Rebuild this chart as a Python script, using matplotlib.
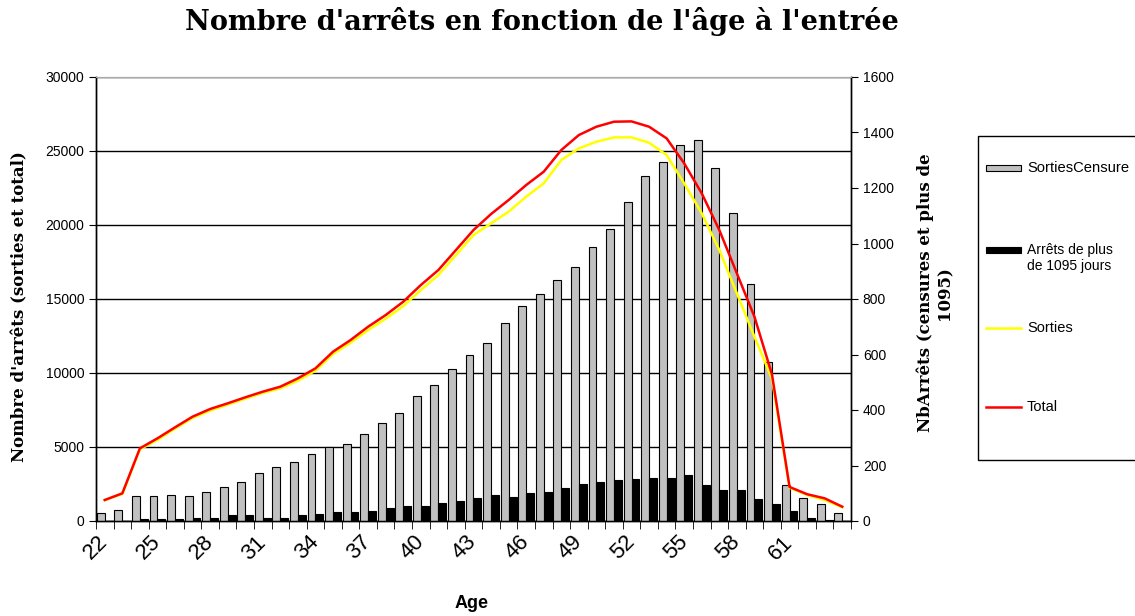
import matplotlib.pyplot as plt
from matplotlib.patches import Rectangle
from matplotlib.lines import Line2D

ages = list(range(22, 65))
censure = [28, 38, 90, 90, 95, 90, 106, 124, 139, 173, 195, 211, 240, 267, 279,
           312, 352, 390, 452, 491, 547, 597, 641, 714, 775, 819, 870, 914, 986,
           1052, 1148, 1243, 1293, 1354, 1372, 1271, 1109, 853, 574, 129, 84, 61, 28]
plus_1095 = [0, 0, 6, 6, 7, 11, 12, 22, 22, 12, 12, 22, 26, 31, 32, 37, 48, 54,
             54, 66, 71, 82, 95, 88, 100, 106, 120, 132, 141, 147, 153, 156, 156,
             165, 129, 113, 113, 80, 62, 35, 12, 2, 0]
sorties = [1419, 1824, 4842, 5472, 6238, 6959, 7454, 7860, 8265, 8648, 8963,
           9481, 10157, 11283, 12048, 12904, 13669, 14525, 15606, 16620, 17971,
           19322, 20110, 20899, 21912, 22813, 24389, 25177, 25628, 25920, 25920,
           25560, 24727, 22813, 20786, 18309, 15381, 12454, 9600, 2252, 1757,
           1419, 923]
total = [1419, 1869, 4909, 5585, 6328, 7049, 7567, 7950, 8355, 8738, 9076,
         9639, 10314, 11440, 12228, 13129, 13917, 14818, 15944, 16958, 18309,
         19660, 20741, 21687, 22700, 23601, 25065, 26078, 26641, 26979, 27000,
         26641, 25853, 24164, 22137, 19660, 16732, 13805, 9900, 2300, 1810,
         1531, 968]

sans = 'Liberation Sans'
serif = 'DejaVu Serif'

fig = plt.figure(figsize=(11.35, 6.16), dpi=100)
ax = fig.add_axes([96 / 1135, 1 - 521 / 616, 755 / 1135, 444 / 616])
ax2 = ax.twinx()
ax3 = ax.twinx()

idx = list(range(len(ages)))
w = 0.45

# left axis: grid only
ax.set_ylim(0, 30000)
ax.set_yticks(range(0, 30001, 5000))
ax.grid(axis='y', color='black', lw=1)
ax.tick_params(axis='y', direction='out', length=5, labelsize=10)
for t in ax.get_yticklabels():
    t.set_fontfamily(sans)

# right axis: bars
ax2.bar([i - w / 2 for i in idx], censure, width=w, color='#c0c0c0',
        edgecolor='black', lw=0.8)
ax2.bar([i + w / 2 for i in idx], plus_1095, width=w, color='black',
        edgecolor='black', lw=0.8)
ax2.set_ylim(0, 1600)
ax2.set_yticks(range(0, 1601, 200))
ax2.tick_params(axis='y', direction='out', length=5, labelsize=10)
for t in ax2.get_yticklabels():
    t.set_fontfamily(sans)

# lines on top, left scale
ax3.plot(idx, sorties, color='#ffff00', lw=1.8)
ax3.plot(idx, total, color='#ff0000', lw=1.8)
ax3.set_ylim(0, 30000)
ax3.set_yticks([])
for s in ax3.spines.values():
    s.set_visible(False)

ax.set_xlim(-0.5, len(ages) - 0.5)
ax.set_xticks([i for i in idx if (ages[i] - 22) % 3 == 0 and ages[i] <= 61])
ax.set_xticklabels([str(a) for a in ages if (a - 22) % 3 == 0 and a <= 61],
                   rotation=45, ha='right', va='center', rotation_mode='anchor',
                   fontsize=16, family=sans)
ax.set_xticks([i - 0.5 for i in range(len(ages) + 1)], minor=True)
ax.tick_params(axis='x', which='major', length=0, pad=13)
ax.tick_params(axis='x', which='minor', length=6, direction='out')

for a in (ax, ax2):
    a.spines['top'].set_color('#aaaaaa')
    for s in ('left', 'right', 'bottom'):
        a.spines[s].set_linewidth(1)

fig.text(542 / 1135, 1 - 22 / 616, "Nombre d'arrêts en fonction de l'âge à l'entrée",
         ha='center', va='center', fontsize=19.5, fontweight='bold', family=serif)
fig.text(20 / 1135, 1 - 307 / 616, "Nombre d'arrêts (sorties et total)",
         rotation=90, ha='center', va='center', fontsize=12, fontweight='bold',
         family=serif)
fig.text(935 / 1135, 1 - 293 / 616, "NbArrêts (censures et plus de\n1095)",
         rotation=90, ha='center', va='center', fontsize=12, fontweight='bold',
         family=serif, multialignment='center')
fig.text(472 / 1135, 1 - 603 / 616, "Age", ha='center', va='center',
         fontsize=13, fontweight='bold', family=sans)

# legend box
fig.patches.append(Rectangle((978 / 1135, 1 - 460 / 616), 200 / 1135, 324 / 616,
                             transform=fig.transFigure, fill=False,
                             edgecolor='black', lw=1))
fig.patches.append(Rectangle((986 / 1135, 1 - 171 / 616), 35 / 1135, 6 / 616,
                             transform=fig.transFigure, facecolor='#c0c0c0',
                             edgecolor='black', lw=0.8))
fig.patches.append(Rectangle((986 / 1135, 1 - 253 / 616), 35 / 1135, 6 / 616,
                             transform=fig.transFigure, facecolor='black',
                             edgecolor='black', lw=0.8))
fig.lines.append(Line2D([986 / 1135, 1021 / 1135], [1 - 328 / 616] * 2,
                        transform=fig.transFigure, color='#ffff00', lw=1.8))
fig.lines.append(Line2D([986 / 1135, 1021 / 1135], [1 - 407 / 616] * 2,
                        transform=fig.transFigure, color='#ff0000', lw=1.8))
fig.text(1027 / 1135, 1 - 168 / 616, "SortiesCensure", va='center', fontsize=10.6, family=sans)
fig.text(1027 / 1135, 1 - 258 / 616, "Arrêts de plus\nde 1095 jours", va='center',
         fontsize=10, family=sans, linespacing=1.1)
fig.text(1027 / 1135, 1 - 328 / 616, "Sorties", va='center', fontsize=10.5, family=sans)
fig.text(1027 / 1135, 1 - 407 / 616, "Total", va='center', fontsize=10.5, family=sans)

fig.savefig('out.png', dpi=100)
